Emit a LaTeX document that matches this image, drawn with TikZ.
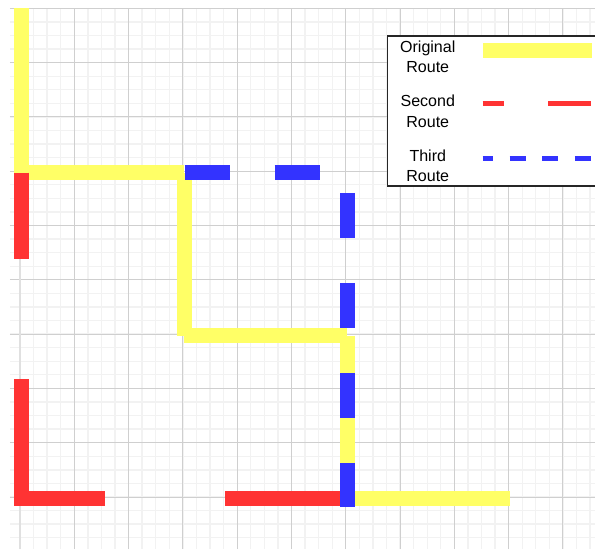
\documentclass[tikz,border=0pt]{standalone}
\usepackage{fontspec}
\setmainfont{Liberation Sans}
\definecolor{routeyellow}{RGB}{255,255,102}
\definecolor{routered}{RGB}{255,51,51}
\definecolor{routeblue}{RGB}{51,51,255}

\begin{document}
\begin{tikzpicture}[
        route/.style={line width=0.276cm},
        original/.style={route, routeyellow},
        second/.style={route, routered, dash pattern=on 2.21cm off 2.21cm},
        third/.style={route, routeblue, dash pattern=on 0.829cm off 0.829cm},
        keyline/.style={line width=0.092cm},
        legendtext/.style={align=center, inner sep=0pt, font=\fontsize{8.4}{10.8}\selectfont}
    ]
        \clip (-0.368,-0.958) rectangle (10.59,9.153);
        \draw [black!5, line width=0.7pt, step=0.25] (-0.184,-0.96) grid (10.6,9);
        \draw [black!19, line width=0.5pt] (-0.184,-0.96) grid (10.6,9);
        \draw [black!12, line width=1pt] (0,-0.96) -- (0,9);

        \begin{scope}[shift={(0.028,-0.028)}]
            \coordinate (start) at (0,9.028);
            \coordinate (a) at (0,6);
            \coordinate (b) at (3,6);
            \coordinate (c) at (3,3);
            \coordinate (d) at (6,3);
            \coordinate (e) at (6,0);
            \coordinate (goal) at (9,0);
            \coordinate (f) at (0,0);
            \coordinate (g) at (6,6);

            \foreach \u/\v in {start/a, a/b, b/c, c/d, d/e, e/goal}
                \draw [original] (\u) -- (\v);

            \draw [second, dash phase=0.617cm] (a) -- (f);
            \draw [second, dash phase=0.538cm] ([xshift=-0.13cm]f) -- (e);

            \draw [third, dash phase=1.654cm] (b) -- (g);
            \draw [third, dash phase=1.286cm] (g) -- ([yshift=-0.15cm]e);
        \end{scope}

        \draw [black!85, line width=0.9pt, fill=white] (6.77,5.73) rectangle (10.8,8.49);
        \node [legendtext] (keyorig) at (7.51,8.11) {Original\\Route};
        \node [legendtext] (keysecond) at (7.51,7.10) {Second\\Route};
        \node [legendtext] (keythird) at (7.51,6.10) {Third\\Route};
        \draw [routeyellow, line width=0.265cm] (8.53,8.22) -- (10.53,8.22);
        \draw [keyline, routered, dash pattern=on 0.81cm off 0.81cm, dash phase=0.412cm] (8.52,7.25) -- (10.52,7.25);
        \draw [keyline, routeblue, dash pattern=on 0.295cm off 0.304cm, dash phase=0.1cm] (8.52,6.24) -- (10.52,6.24);
    \end{tikzpicture}
\end{document}
